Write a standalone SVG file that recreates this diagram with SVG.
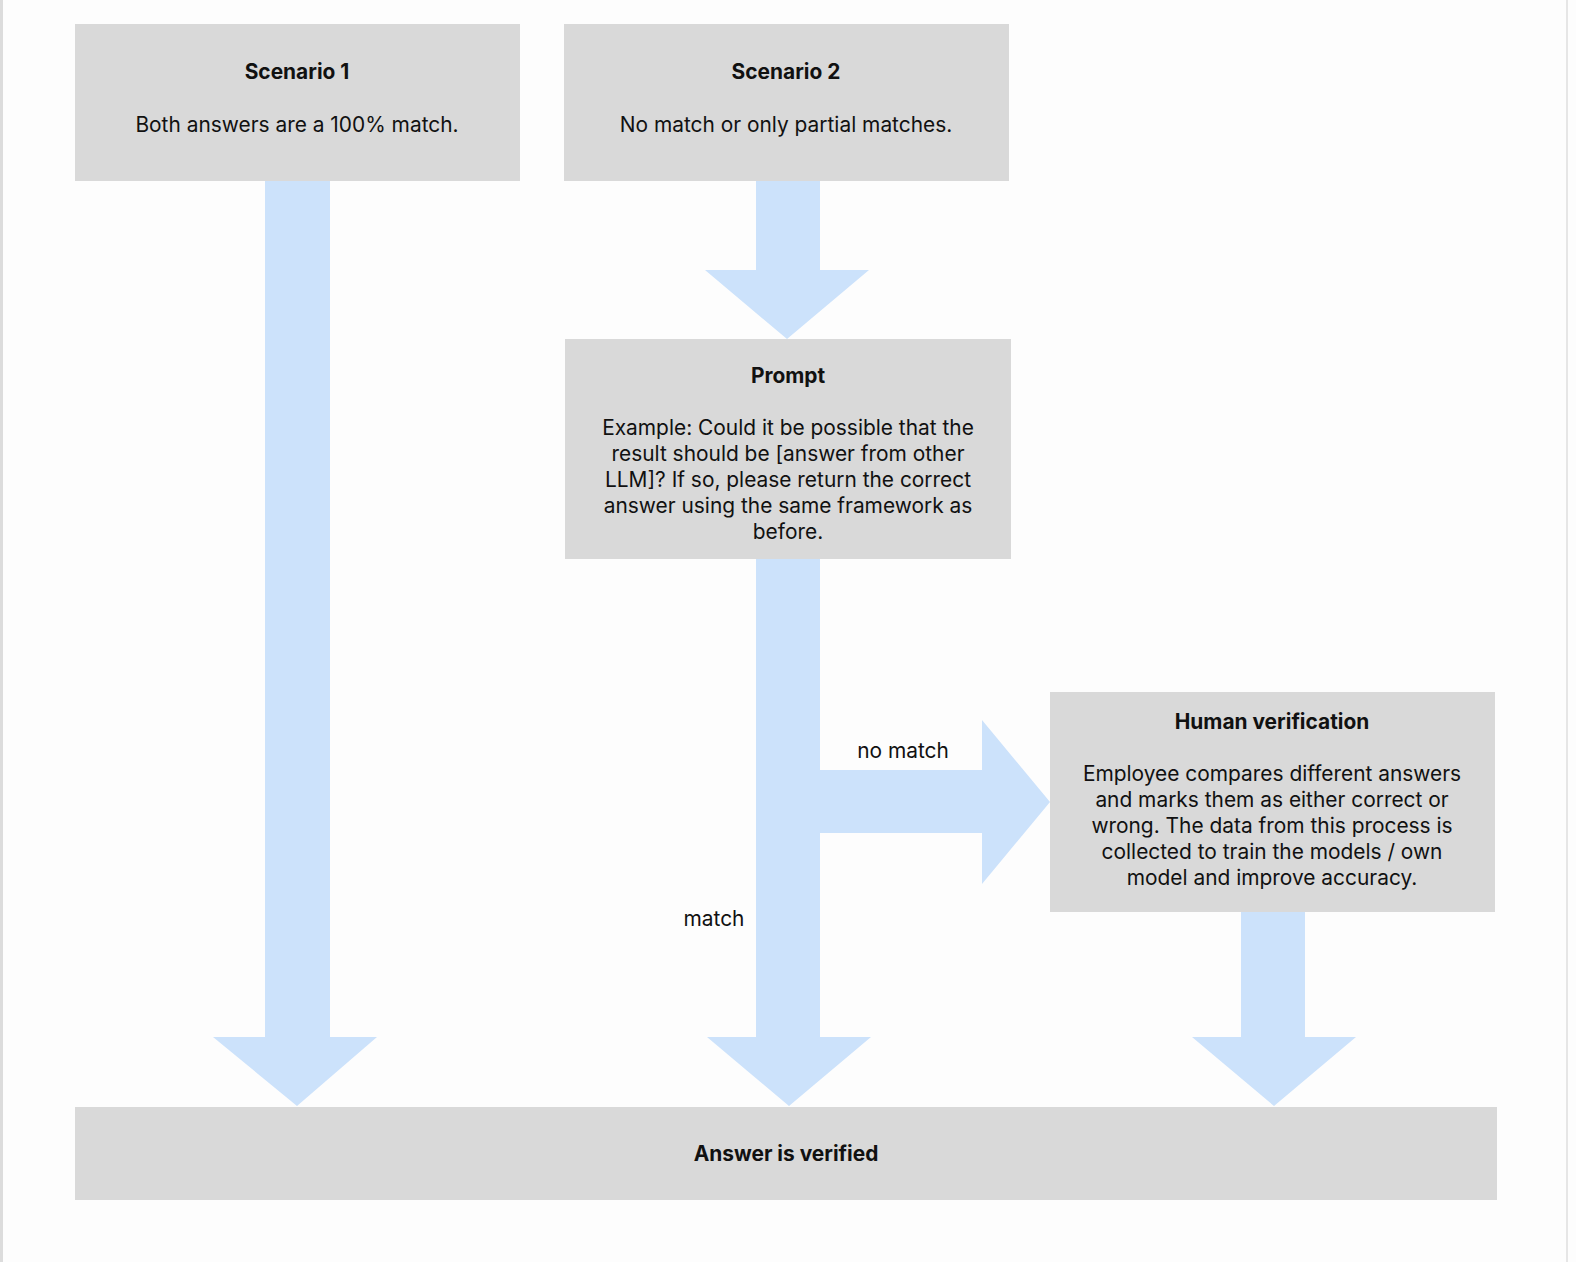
<svg xmlns="http://www.w3.org/2000/svg" width="1576" height="1262" viewBox="0 0 1576 1262">
<style>
.box{fill:#d9d9d9}
.arr{fill:#cce2fb}
text{font-family:Inter,"Noto Sans","Liberation Sans",sans-serif;font-size:20.9px;fill:#111;text-anchor:middle}
.t{font-weight:bold}
</style>
<rect width="1576" height="1262" fill="#fdfdfd"/>
<rect x="0" y="0" width="3" height="1262" fill="#dcdcdc"/>
<rect x="1566" y="0" width="2" height="1262" fill="#e6e6e6"/>
<g id="connectors">
<polygon class="arr" points="265,181 330,181 330,1037 377,1037 297,1106 213,1037 265,1037"/>
<polygon class="arr" points="756,181 820,181 820,270 869,270 787,339 705,270 756,270"/>
<polygon class="arr" points="756,559 820,559 820,1037 871,1037 789,1106 707,1037 756,1037"/>
<polygon class="arr" points="820,770 982,770 982,720 1050,802 982,884 982,833 820,833"/>
<polygon class="arr" points="1241,912 1305,912 1305,1037 1356,1037 1274,1106 1192,1037 1241,1037"/>
<text x="903" y="758">no match</text>
<text x="714" y="926">match</text>
</g>
<g id="scenario1">
<rect class="box" x="75" y="24" width="445" height="157"/>
<text class="t" x="297" y="79">Scenario 1</text>
<text x="297" y="132">Both answers are a 100% match.</text>
</g>
<g id="scenario2">
<rect class="box" x="564" y="24" width="445" height="157"/>
<text class="t" x="786" y="79">Scenario 2</text>
<text x="786" y="132">No match or only partial matches.</text>
</g>
<g id="prompt">
<rect class="box" x="565" y="339" width="446" height="220"/>
<text class="t" x="788" y="383">Prompt</text>
<text x="788" y="435">Example: Could it be possible that the</text>
<text x="788" y="461">result should be [answer from other</text>
<text x="788" y="487">LLM]? If so, please return the correct</text>
<text x="788" y="513">answer using the same framework as</text>
<text x="788" y="539">before.</text>
</g>
<g id="human">
<rect class="box" x="1050" y="692" width="445" height="220"/>
<text class="t" x="1272" y="729">Human verification</text>
<text x="1272" y="781">Employee compares different answers</text>
<text x="1272" y="807">and marks them as either correct or</text>
<text x="1272" y="833">wrong. The data from this process is</text>
<text x="1272" y="859">collected to train the models / own</text>
<text x="1272" y="885">model and improve accuracy.</text>
</g>
<g id="verified">
<rect class="box" x="75" y="1107" width="1422" height="93"/>
<text class="t" x="786" y="1161">Answer is verified</text>
</g>
</svg>
